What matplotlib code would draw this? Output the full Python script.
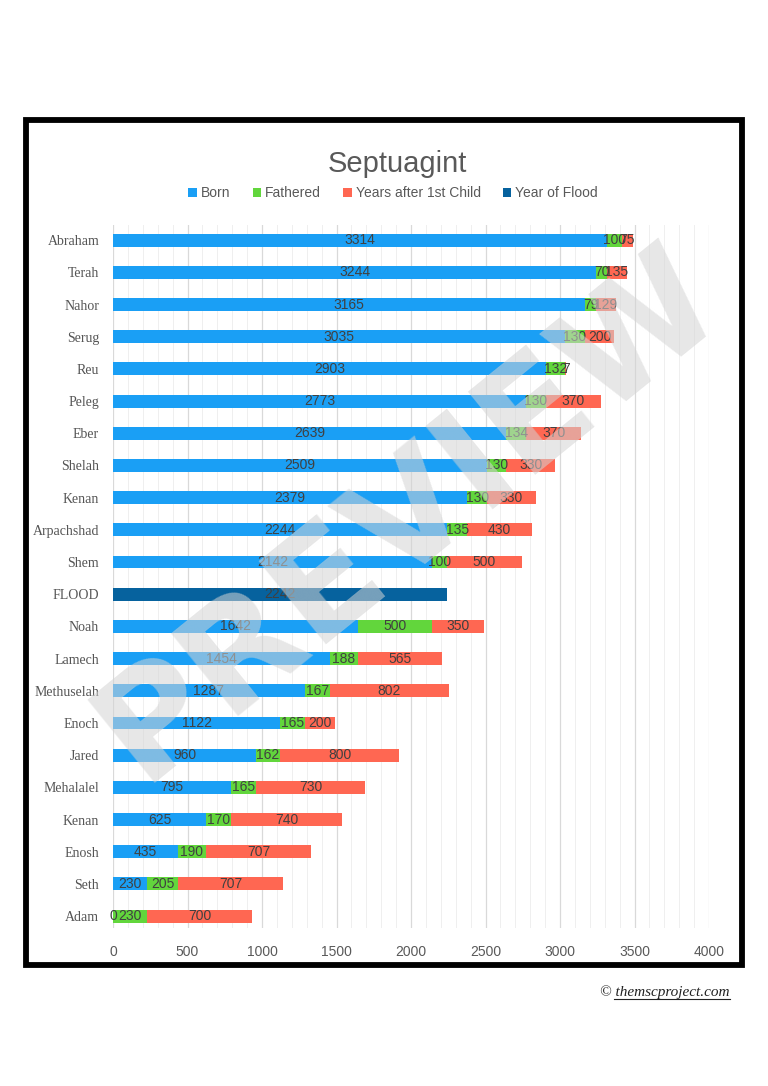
import matplotlib.pyplot as plt
import matplotlib.patches as mpatches
import numpy as np

# rows from top to bottom
names = ["Abraham", "Terah", "Nahor", "Serug", "Reu", "Peleg", "Eber", "Shelah",
         "Kenan", "Arpachshad", "Shem", "FLOOD", "Noah", "Lamech", "Methuselah",
         "Enoch", "Jared", "Mehalalel", "Kenan", "Enosh", "Seth", "Adam"]
born = [3314, 3244, 3165, 3035, 2903, 2773, 2639, 2509, 2379, 2244, 2142, 0,
        1642, 1454, 1287, 1122, 960, 795, 625, 435, 230, 0]
fathered = [100, 70, 79, 130, 132, 130, 134, 130, 130, 135, 100, 0,
            500, 188, 167, 165, 162, 165, 170, 190, 205, 230]
after_child = [75, 135, 129, 200, 7, 370, 370, 330, 330, 430, 500, 0,
               350, 565, 802, 200, 800, 730, 740, 707, 707, 700]
flood = [0, 0, 0, 0, 0, 0, 0, 0, 0, 0, 0, 2242,
         0, 0, 0, 0, 0, 0, 0, 0, 0, 0]
flood_row = "FLOOD"

c_born = "#1a9ff5"
c_fath = "#62d63c"
c_after = "#ff6752"
c_flood = "#06629e"
txt = "#404040"

fig = plt.figure(figsize=(7.68, 10.86), dpi=100)
ax = fig.add_axes([113 / 768, 1 - 928 / 1086, 596 / 768, 703 / 1086])

y = np.arange(len(names))
h = 0.4
born = np.array(born)
fathered = np.array(fathered)
after_child = np.array(after_child)
flood = np.array(flood)
is_flood = np.array([n == flood_row for n in names])

b1 = ax.barh(y, born, h, color=c_born, label="Born", zorder=2)
b2 = ax.barh(y, fathered, h, left=born, color=c_fath, label="Fathered", zorder=2)
b3 = ax.barh(y, after_child, h, left=born + fathered, color=c_after,
             label="Years after 1st Child", zorder=2)
b4 = ax.barh(y, flood, h, color=c_flood, label="Year of Flood", zorder=2)

def labels_for(vals, keep):
    return [str(v) if k else "" for v, k in zip(vals, keep)]

lab_kw = dict(label_type="center", fontsize=10, color=txt, family="Liberation Sans")
ax.bar_label(b1, labels=labels_for(born, ~is_flood), **lab_kw)
ax.bar_label(b2, labels=labels_for(fathered, ~is_flood), **lab_kw)
ax.bar_label(b3, labels=labels_for(after_child, ~is_flood), **lab_kw)
ax.bar_label(b4, labels=labels_for(flood, is_flood), **lab_kw)

ax.set_xlim(0, 4000)
ax.set_ylim(-0.47, len(names) - 0.63)
ax.invert_yaxis()
ax.set_yticks(y)
ax.set_yticklabels(names, family="Liberation Serif", fontsize=10, color="#555555")
ax.set_xticks(np.arange(0, 4001, 500))
ax.set_xticks(np.arange(0, 4001, 100), minor=True)
ax.tick_params(axis="x", which="both", length=0, labelsize=10, labelcolor="#595959", pad=12)
ax.tick_params(axis="y", length=0, pad=10)
for t in ax.get_xticklabels():
    t.set_family("Liberation Sans")
ax.grid(axis="x", which="major", color="#d9d9d9", lw=0.9, zorder=0)
ax.grid(axis="x", which="minor", color="#efefef", lw=0.7, zorder=0)
ax.grid(axis="y", visible=False)
for s in ax.spines.values():
    s.set_visible(False)

fig.text(0.518, 1 - 164 / 1086, "Septuagint", ha="center", va="center",
         fontsize=21, color="#595959", family="Liberation Sans")
fig.legend(handles=[b1, b2, b3, b4], loc="center", bbox_to_anchor=(0.512, 1 - 193 / 1086),
           ncol=4, frameon=False, fontsize=10, labelcolor="#595959",
           handlelength=0.6, handleheight=0.6, handletextpad=0.3, columnspacing=1.6,
           prop={"family": "Liberation Sans", "size": 10})

# outer frame
fig.patches.append(mpatches.Rectangle((26 / 768, 1 - 965 / 1086), 716 / 768, 845 / 1086,
                                      transform=fig.transFigure, fill=False,
                                      edgecolor="black", lw=4.2, zorder=5))

# watermark
fig.text(0.532, 0.527, "PREVIEW", rotation=39, ha="center", va="center",
         fontsize=106, fontweight="bold", color="#d4d4d4", alpha=0.55,
         family="DejaVu Sans", zorder=10)

# copyright
fig.text(0.95, 1 - 992 / 1086, "© themscproject.com", ha="right", va="center",
         fontsize=11, style="italic", family="Liberation Serif", color="#222222")
fig.add_artist(plt.Line2D([0.8, 0.95], [1 - 999 / 1086] * 2, color="#222222", lw=0.8))

fig.savefig("out.png", dpi=100)
